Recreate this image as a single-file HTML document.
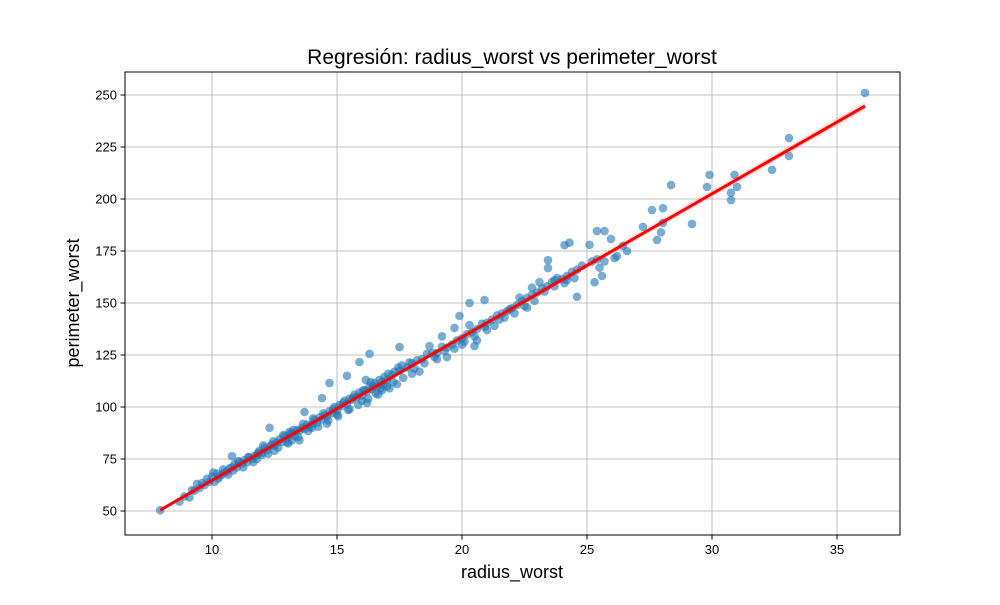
<!DOCTYPE html>
<html><head><meta charset="utf-8"><style>
body{margin:0;background:#fff;font-family:"Liberation Sans","DejaVu Sans",sans-serif}
svg text{font-family:"Liberation Sans","DejaVu Sans",sans-serif}
</style></head><body>
<svg id="chart" width="1000" height="600" xmlns="http://www.w3.org/2000/svg">
<text x="512" y="64" font-size="21" text-anchor="middle">Regresión: radius_worst vs perimeter_worst</text>
<text x="512" y="578" font-size="18" text-anchor="middle">radius_worst</text>
<text transform="translate(79,303) rotate(-90)" font-size="18" text-anchor="middle">perimeter_worst</text>
<g id="grid"></g>
<g id="pts"></g>
<g id="reg"></g>
<rect x="125" y="72" width="775" height="463" fill="none" stroke="#000" stroke-width="1"/>
<g id="ticks"></g>
</svg>
<script>
const xTicks=[10,15,20,25,30,35];
const yTicks=[50,75,100,125,150,175,200,225,250];
const regSlope=[6.89];
const regIntercept=[-4.2];
const points=[[7.93,50.4],[8.7,54.5],[8.9,57],[9.1,56.5],[9.3,59.8],[9.4,63],[9.5,61],[9.7,62.5],[9.9,64],[10.0,66.5],[10.1,64],[10.2,68],[10.3,66.6],[10.4,67.5],[10.5,68.6],[10.6,69],[10.7,70.5],[10.8,71],[10.9,72.5],[11.0,71],[11.1,73.5],[11.2,72.8],[11.3,74.5],[11.4,73.4],[11.5,75.8],[11.6,75],[11.7,76.5],[11.8,77],[11.9,79],[12.0,78],[12.1,80.5],[12.2,79.3],[12.3,81],[12.4,82],[12.5,81.5],[12.6,83],[12.7,84.5],[12.8,83.2],[12.9,86],[13.0,85],[13.1,86.8],[13.2,87.5],[13.3,86],[13.4,89],[13.5,88.6],[13.6,90],[13.7,89.4],[13.8,91.5],[13.9,90.3],[14.0,92],[14.1,93.8],[14.2,92.5],[14.3,95],[14.4,94],[14.5,96],[14.6,95.5],[14.7,98],[14.8,97],[14.9,100],[15.0,98.5],[15.1,101],[15.2,100.5],[15.3,103],[15.4,101.6],[15.5,104],[15.6,103.5],[15.7,106],[15.8,104.8],[15.9,107],[16.0,105.5],[16.1,108],[16.2,107.5],[16.3,110],[16.4,108.6],[16.5,111.6],[16.6,110],[16.7,113],[16.8,112],[16.9,114.5],[17.0,113],[17.2,115.5],[17.3,117],[17.5,117.5],[17.6,120],[17.8,119],[18.0,121],[18.2,122.5],[18.4,123],[18.6,125.6],[18.8,126],[19.0,126],[19.2,129],[19.4,128.5],[19.6,130],[19.8,132],[20.0,133],[20.2,135],[20.4,136],[20.6,137.5],[20.8,140],[21.0,140.5],[21.2,142],[21.4,144],[21.6,145],[21.8,146],[22.0,147.5],[22.2,149],[22.4,151],[22.6,152.5],[22.8,154],[23.0,155],[23.2,157],[23.4,158],[23.6,160],[23.8,162],[24.0,161.5],[24.2,163],[24.4,165],[24.6,166],[24.8,168],[25.2,170],[25.5,167],[26.2,172.5],[26.6,175],
[12.5,79],[13.2,84],[14.6,92],[15.5,99],[16.8,108],[17.4,111],[11.8,75],[16.2,102],[17.1,109],[18.3,117],[19.4,124],[20.6,132],[12.0,77],[13.0,83],[14.0,90],[15.0,96.5],[16.0,103],[17.0,110],[18.0,116],[19.0,123],[20.0,130],[21.0,137],
[9.2,60],[9.6,63.5],[9.8,65.5],[10.05,68.5],[10.25,65.5],[10.45,70],[10.65,67.5],[10.85,69.5],[11.05,74],[11.25,71],[11.45,76],[11.65,73.5],[11.85,78],[12.05,81.5],[12.25,77.5],[12.45,83.5],[12.65,80.5],[12.85,86.5],[13.05,82.5],[13.25,89],[13.45,85.5],[13.65,92],[13.85,88.5],[14.05,94.5],[14.25,90.5],[14.45,97],[14.65,93.5],[14.85,99],[15.05,95.5],[15.25,102],[15.45,98.5],[15.65,104.5],[15.85,101],[16.05,108],[16.25,104],[16.45,110],[16.65,106],[16.85,111],[16.15,113],[16.35,112],[16.55,106.5],[16.75,109],[17.05,116],[17.25,112],[17.45,119],[17.65,114],[17.9,121.5],[18.1,118.5],[18.5,121],[18.9,124],[19.3,127],[19.7,128],[20.1,131.5],[20.5,134],[20.9,138.5],[21.3,139],[21.7,143],[22.1,145],[22.5,148.5],[22.9,151],[23.3,155.5],[23.7,158],[24.1,159.5],[24.5,162],
[36.12,251],[33.08,229.3],[33.08,220.7],[32.4,214],[30.9,211.6],[29.9,211.6],[29.8,205.8],[31.0,205.8],[30.76,203],[30.76,199.5],[28.36,206.7],[29.2,188],[28.04,195.6],[27.6,194.7],[28.04,188.5],[27.96,184],[27.8,180.3],[27.24,186.6],[26.44,177.5],[26.1,171.6],[25.96,180.8],[25.7,184.6],[25.4,184.6],[25.1,178],[25.7,170],[25.4,171],[25.6,163],[25.3,160],[24.6,153],[24.3,179],[24.1,177.8],[23.44,170.6],[23.44,166.8],[23.7,161],[24.2,161],[23.1,160],[22.8,157.4],[22.6,147.8],[22.3,152.6],[21.9,147],[21.5,142],[20.9,151.4],[20.3,150],[19.9,143.8],[20.3,139.4],[20.5,129.3],[19.7,138],[19.2,134],[18.7,129.3],[17.5,128.8],[16.3,125.5],[15.9,121.6],[15.4,115],[14.7,111.5],[14.4,104.3],[13.7,97.6],[12.3,90],[10.8,76.4],[13.1,88],[13.5,84]];
const X=v=>212+(v-10)*25, Y=v=>511-(v-50)*2.08;
const NS='http://www.w3.org/2000/svg';
function mk(tag,attrs,parent){const e=document.createElementNS(NS,tag);for(const k in attrs)e.setAttribute(k,attrs[k]);parent.appendChild(e);return e;}
const grid=document.getElementById('grid'),ticks=document.getElementById('ticks'),pts=document.getElementById('pts'),reg=document.getElementById('reg');
xTicks.forEach(t=>{
 const g=mk('line',{x1:X(t),x2:X(t),y1:72,y2:535,stroke:'#b0b0b0','stroke-width':0.8},grid);
 
 
 const tk=mk('line',{x1:X(t),x2:X(t),y1:535,y2:539.5,stroke:'#000'},ticks);
 
 
 const tl=mk('text',{x:X(t),y:554,'font-size':13,'text-anchor':'middle'},ticks);tl.textContent=t;
 
 
});
yTicks.forEach(t=>{
 const g=mk('line',{x1:125,x2:900,y1:Y(t),y2:Y(t),stroke:'#b0b0b0','stroke-width':0.8},grid);
 
 
 const tk=mk('line',{x1:120.5,x2:125,y1:Y(t),y2:Y(t),stroke:'#000'},ticks);
 
 
 const tl=mk('text',{x:117,y:Y(t)+4.5,'font-size':13,'text-anchor':'end'},ticks);tl.textContent=t;
 
 
});
points.forEach(p=>{
 const c=mk('circle',{cx:X(p[0]),cy:Y(p[1]),r:4.3,fill:'#1f77b4','fill-opacity':0.6},pts);
 
 
});
const xs=points.map(p=>p[0]),x0=Math.min(...xs),x1=Math.max(...xs);
const f=v=>regSlope[0]*v+regIntercept[0];
const band=mk('polygon',{points:`${X(x0)},${Y(f(x0))-1.5} ${X(x1)},${Y(f(x1))-4} ${X(x1)},${Y(f(x1))+4} ${X(x0)},${Y(f(x0))+1.5}`,fill:'#ff0000','fill-opacity':0.15},reg);


const ln=mk('line',{x1:X(x0),y1:Y(f(x0)),x2:X(x1),y2:Y(f(x1)),stroke:'#ff0000','stroke-width':3},reg);


</script>
</body></html>
